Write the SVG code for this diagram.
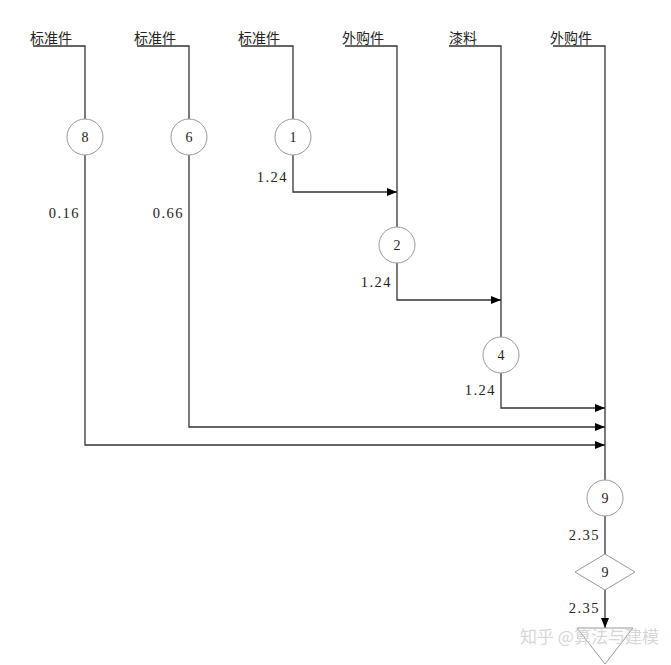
<svg xmlns="http://www.w3.org/2000/svg" width="671" height="665" viewBox="0 0 671 665">
<style>
.ln{stroke:#333;stroke-width:1.3;fill:none}
.nd{stroke:#999;stroke-width:1;fill:#fff}
.lbl{font-family:"Noto Sans CJK SC","Liberation Sans",sans-serif;font-size:14px;fill:#222}
.num{font-family:"Liberation Serif",serif;font-size:14px;fill:#222;text-anchor:middle}
.val{font-family:"Liberation Serif",serif;font-size:14.5px;fill:#222;text-anchor:end;letter-spacing:1.5px}
</style>
<defs>
<marker id="ar" viewBox="0 0 10 8" refX="10" refY="4" markerWidth="10" markerHeight="8" markerUnits="userSpaceOnUse" orient="auto">
<path d="M0,0 L10,4 L0,8 Z" fill="#000"/>
</marker>
</defs>
<rect width="671" height="665" fill="#fff"/>
<g id="connectors">
<path class="ln" d="M33,46 H85 V119"/>
<path class="ln" d="M137,46 H189 V119"/>
<path class="ln" d="M241,46 H293 V119"/>
<path class="ln" d="M345,46 H397 V227"/>
<path class="ln" d="M449,46 H501 V337"/>
<path class="ln" d="M553,46 H605 V480"/>
<path class="ln" d="M293,155 V192 H397" marker-end="url(#ar)"/>
<path class="ln" d="M397,263 V300 H501" marker-end="url(#ar)"/>
<path class="ln" d="M501,373 V408 H605" marker-end="url(#ar)"/>
<path class="ln" d="M189,155 V427 H605" marker-end="url(#ar)"/>
<path class="ln" d="M85,155 V445 H605" marker-end="url(#ar)"/>
<path class="ln" d="M605,516 V554"/>
<path class="ln" d="M605,590 V628" marker-end="url(#ar)"/>
</g>
<g id="labels">
<text class="lbl" x="30" y="43">标准件</text>
<text class="lbl" x="134" y="43">标准件</text>
<text class="lbl" x="238" y="43">标准件</text>
<text class="lbl" x="342" y="43">外购件</text>
<text class="lbl" x="449" y="43">漆料</text>
<text class="lbl" x="550" y="43">外购件</text>
<text class="val" x="288" y="182">1.24</text>
<text class="val" x="80" y="218">0.16</text>
<text class="val" x="184" y="218">0.66</text>
<text class="val" x="392" y="287">1.24</text>
<text class="val" x="496" y="395">1.24</text>
<text class="val" x="600" y="540">2.35</text>
<text class="val" x="600" y="613">2.35</text>
</g>
<g id="n8"><circle class="nd" cx="85" cy="137" r="18"/><text class="num" x="85" y="142">8</text></g>
<g id="n6"><circle class="nd" cx="189" cy="137" r="18"/><text class="num" x="189" y="142">6</text></g>
<g id="n1"><circle class="nd" cx="293" cy="137" r="18"/><text class="num" x="293" y="142">1</text></g>
<g id="n2"><circle class="nd" cx="397" cy="245" r="18"/><text class="num" x="397" y="250">2</text></g>
<g id="n4"><circle class="nd" cx="501" cy="355" r="18"/><text class="num" x="501" y="360">4</text></g>
<g id="n9"><circle class="nd" cx="605" cy="498" r="18"/><text class="num" x="605" y="503">9</text></g>
<g id="d9"><polygon class="nd" points="605,554 635,572 605,590 575,572"/><text class="num" x="605" y="577">9</text></g>
<g id="store"><polygon class="nd" points="577,628 633,628 605,664"/></g>
<text x="520" y="643" font-family="Noto Sans CJK SC,sans-serif" font-size="17" fill="#ccc" fill-opacity="0.8">知乎 @算法与建模</text>
</svg>
